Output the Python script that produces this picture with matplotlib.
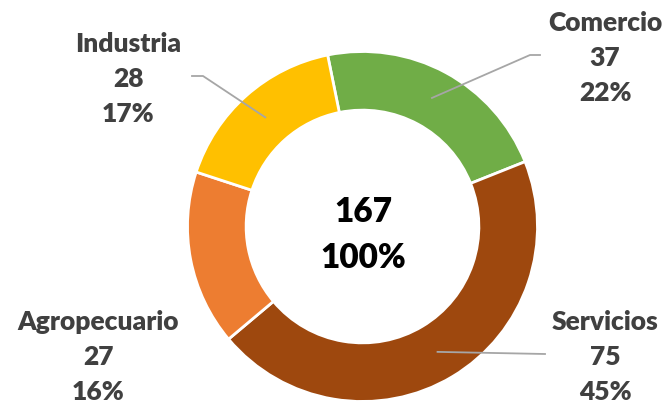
import numpy as np
import matplotlib.pyplot as plt

sectores = ['Comercio', 'Servicios', 'Agropecuario', 'Industria']
valores = [37, 75, 27, 28]
colores = ['#70AD47', '#9E480E', '#ED7D31', '#FFC000']

total = sum(valores)
PX = 175.0  # pixels per unit radius
CX, CY = 362.5, 227.5


def px2d(x, y):
    return (x - CX) / PX, (CY - y) / PX


fig = plt.figure(figsize=(6.67, 4.02), dpi=100)
ax = fig.add_axes([0, 0, 1, 1])

wedges, _ = ax.pie(valores, colors=colores, startangle=101.5, counterclock=False,
                   radius=1.0, wedgeprops=dict(width=0.335, edgecolor='white', linewidth=2))
# pie resets the limits, so set them afterwards
ax.set_aspect('auto')
ax.set_xlim(-CX / PX, (667 - CX) / PX)
ax.set_ylim(-(402 - CY) / PX, CY / PX)
ax.axis('off')

# label boxes (text centre in pixels) and leader line elbows
etiquetas = {
    'Comercio': ((605, 58), (530, 56), (540, 56)),
    'Servicios': ((605, 357), (545, 355), None),
    'Agropecuario': ((98, 357), None, None),
    'Industria': ((128, 79), (203, 77), (192, 77)),
}

for w, nombre, v in zip(wedges, sectores, valores):
    pos, codo, fin = etiquetas[nombre]
    pct = round(v / total * 100)
    tx, ty = px2d(*pos)
    ax.text(tx, ty, f'{nombre}\n{v}\n{pct}%', ha='center', va='center',
            fontsize=19, fontweight='heavy', color='#404040', family='Lato',
            linespacing=1.55)
    if codo is not None:
        ang = np.radians((w.theta1 + w.theta2) / 2)
        x0, y0 = 0.835 * np.cos(ang), 0.835 * np.sin(ang)
        xs, ys = [x0], [y0]
        cx, cy = px2d(*codo)
        xs.append(cx); ys.append(cy)
        if fin is not None:
            fx, fy = px2d(*fin)
            xs.append(fx); ys.append(fy)
        ax.plot(xs, ys, color='#A6A6A6', lw=1.3)

mx, my = px2d(363, 235)
ax.text(mx, my, f'{total}\n100%', ha='center', va='center', fontsize=24,
        fontweight='heavy', color='black', family='Lato', linespacing=1.55)

fig.savefig('out.png', dpi=100)
